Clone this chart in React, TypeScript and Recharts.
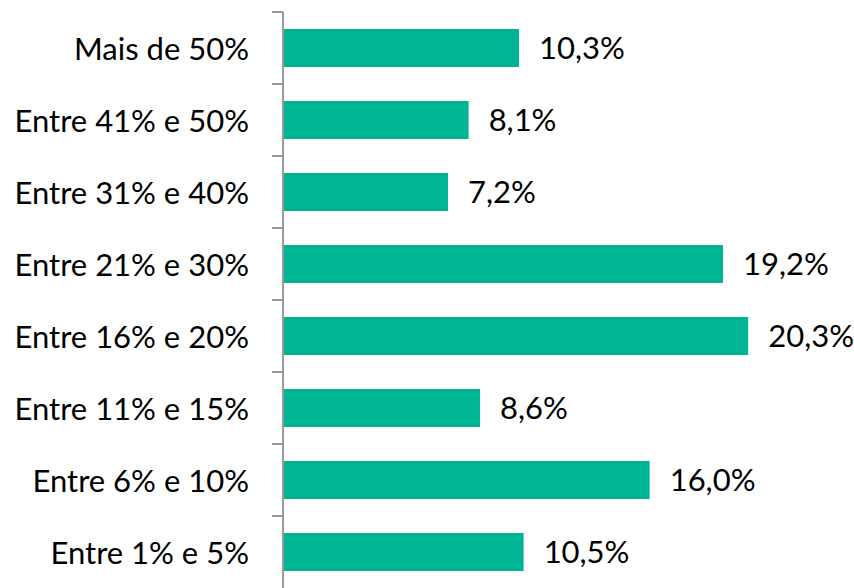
import React from "react";
import { BarChart, Bar, XAxis, YAxis, LabelList } from "recharts";

const categories = [
  "Mais de 50%",
  "Entre 41% e 50%",
  "Entre 31% e 40%",
  "Entre 21% e 30%",
  "Entre 16% e 20%",
  "Entre 11% e 15%",
  "Entre 6% e 10%",
  "Entre 1% e 5%",
];
const values = [10.3, 8.1, 7.2, 19.2, 20.3, 8.6, 16.0, 10.5];

const data = categories.map((name, i) => ({ name, value: values[i] }));

const WIDTH = 854;
const HEIGHT = 588;
const TOP = 12;
const BAND = (HEIGHT - TOP) / categories.length;
const FONT = "Lato, 'Noto Sans', sans-serif";
const FS = 31;

const CatTick = (props: any) => {
  const { x, y, payload } = props;
  return (
    <g>
      <line x1={x - 11} x2={x} y1={y - BAND / 2} y2={y - BAND / 2} stroke="#999" strokeWidth={2} />
      <text
        x={x - 34}
        y={y}
        textAnchor="end"
        dominantBaseline="central"
        fontFamily={FONT}
        fontSize={FS}
        fill="#000"
      >
        {payload.value}
      </text>
    </g>
  );
};

const fmt = (v: any) => `${Number(v).toFixed(1).replace(".", ",")}%`;

export default function App() {
  return (
    <div style={{ position: "absolute", left: 0, top: 0, background: "#fff" }}>
      <BarChart
        width={WIDTH}
        height={HEIGHT}
        data={data}
        layout="vertical"
        margin={{ top: TOP, right: 21, bottom: 0, left: 0 }}
      >
        <XAxis type="number" domain={[0, 24]} hide />
        <YAxis
          type="category"
          dataKey="name"
          width={283}
          axisLine={{ stroke: "#999", strokeWidth: 2 }}
          tickLine={false}
          tickSize={0}
          tickMargin={0}
          tick={<CatTick />}
          interval={0}
        />
        <Bar dataKey="value" fill="#00B594" barSize={38} isAnimationActive={false}>
          <LabelList
            dataKey="value"
            position="right"
            offset={20}
            formatter={fmt}
            style={{ fontFamily: FONT, fontSize: FS, fill: "#000" }}
          />
        </Bar>
      </BarChart>
    </div>
  );
}
